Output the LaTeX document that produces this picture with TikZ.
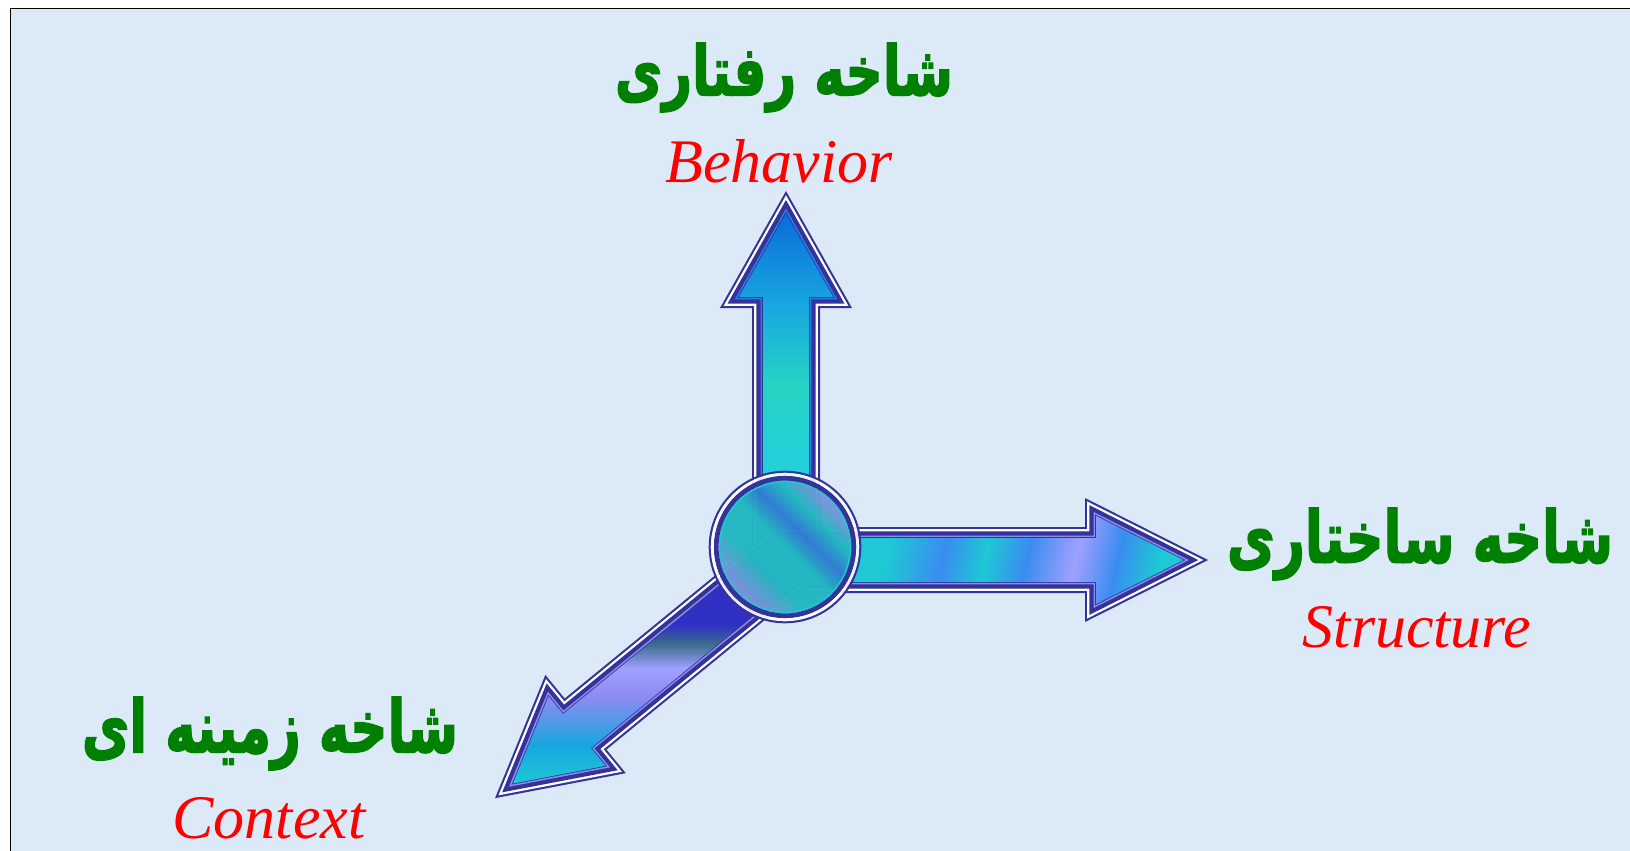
\documentclass[tikz,border=0pt]{standalone}
\usepackage{fontspec}
\usepackage{graphicx}
\setmainfont{Liberation Serif}
\newfontfamily\fa[Script=Arabic, BoldFeatures={FakeBold=2.5}]{DejaVu Sans}
\TeXXeTstate=1
\definecolor{bg}{RGB}{220,233,247}
\definecolor{dk}{RGB}{51,51,153}
\definecolor{gr}{RGB}{0,128,0}
\definecolor{u1}{HTML}{30D4DC}
\definecolor{u2}{HTML}{22D0D8}
\definecolor{u3}{HTML}{26D4C4}
\definecolor{u4}{HTML}{18A6E0}
\definecolor{u5}{HTML}{0A6CD8}
\definecolor{cy}{HTML}{1EC8D4}
\definecolor{cyb}{HTML}{28D2DC}
\definecolor{bl}{HTML}{3A8CF0}
\definecolor{lav}{HTML}{A0A0FF}
\definecolor{teal2}{HTML}{3C6C8C}
\definecolor{db}{HTML}{3030C4}
\definecolor{inblue}{HTML}{2A7DE8}
\definecolor{inlav}{HTML}{8C8CF0}
\pgfdeclareverticalshading{upsh}{100bp}{color(0bp)=(u1); color(25bp)=(u1); color(40bp)=(u2); color(50bp)=(u3); color(62bp)=(u4); color(75bp)=(u5); color(100bp)=(u5)}
\pgfdeclarehorizontalshading{rsh}{100bp}{color(0bp)=(cy); color(25bp)=(cy); color(36bp)=(cy); color(44bp)=(bl); color(50bp)=(cy); color(56bp)=(bl); color(63bp)=(lav); color(69bp)=(bl); color(75bp)=(cy); color(100bp)=(cy)}
\pgfdeclareverticalshading{dsh}{100bp}{color(0bp)=(cy); color(25bp)=(cy); color(33bp)=(u4); color(43bp)=(inlav); color(49bp)=(lav); color(54bp)=(teal2); color(58bp)=(db); color(75bp)=(db); color(100bp)=(db)}
\pgfdeclarehorizontalshading{hubsh}{100bp}{color(0bp)=(lav); color(25bp)=(lav); color(38bp)=(cyb); color(50bp)=(cyb); color(58bp)=(bl); color(66bp)=(cyb); color(75bp)=(lav); color(100bp)=(lav)}
% one offset layer of an arrow: #1 length, #2 shaft half width, #3 head half width, #4 head length, #5 inward offset, #6 options
\newcommand\arlayer[6]{%
  \pgfmathsetmacro\aXB{#1-#4+#5}%
  \pgfmathsetmacro\aS{veclen(#3,#4)}%
  \pgfmathsetmacro\aHH{#3-#5*(\aS+#3)/#4}%
  \pgfmathsetmacro\aTip{#1-#5*\aS/#3}%
  \pgfmathsetmacro\aW{#2-#5}%
  \path[#6] (0,\aW) -- (\aXB,\aW) -- (\aXB,\aHH) -- (\aTip,0) -- (\aXB,-\aHH) -- (\aXB,-\aW) -- (0,-\aW) -- cycle;}
\newcommand\fancyarrow[6]{%
  \arlayer{#1}{#2}{#3}{#4}{0}{fill=dk}
  \arlayer{#1}{#2}{#3}{#4}{2.1}{fill=white}
  \arlayer{#1}{#2}{#3}{#4}{4.4}{fill=dk}
  \arlayer{#1}{#2}{#3}{#4}{8.6}{fill=#5}
  \arlayer{#1}{#2}{#3}{#4}{10.2}{fill=dk}
  \arlayer{#1}{#2}{#3}{#4}{11}{#6}}
\tikzset{
  falabel/.style={inner sep=0pt, text=gr},
  enlabel/.style={inner sep=0pt, anchor=base, text=red, font=\fontsize{62}{70}\selectfont\itshape}
}
\begin{document}
\begin{tikzpicture}[x=1pt,y=-1pt]
\useasboundingbox (0,0) rectangle (1630,851);
\fill[white] (0,0) rectangle (1630,851);
\fill[bg] (10.4,8.4) rectangle (1630,851);
\draw[black,line width=1.6] (10.4,851) -- (10.4,8.4) -- (1630,8.4);

% arrows
\begin{scope}[shift={(786,560)},rotate=90]
  \fancyarrow{369}{34}{66}{117}{inblue}{shade,shading=upsh}
\end{scope}
\begin{scope}[shift={(786,560)},rotate=0]
  \fancyarrow{422}{33}{62}{123}{inlav}{shade,shading=rsh,shading angle=-12}
\end{scope}
\begin{scope}[shift={(786,560)},rotate=219.3]
  \fancyarrow{376}{33}{63.5}{117}{inlav}{shade,shading=dsh}
\end{scope}

% central ring
\coordinate (hub) at (785,547);
\fill[shade, shading=hubsh, shading angle=45, fill opacity=0.86] (hub) circle (66);
\draw[cy, line width=1.6] (hub) circle (65.4);
\draw[dk, line width=4.8] (hub) circle (68.8);
\draw[white, line width=3, opacity=0.9] (hub) circle (72.8);
\draw[dk, line width=2] (hub) circle (75.3);

% labels
\node[falabel] (beh-fa) at (784,77.5) {\resizebox*{338pt}{69pt}{\fa\bfseries\beginR شاخه رفتاری\endR}};
\node[enlabel] (beh-en) at (779,182) {Behavior};
\node[falabel] (str-fa) at (1420,544) {\resizebox*{386pt}{72pt}{\fa\bfseries\beginR شاخه ساختاری\endR}};
\node[enlabel] (str-en) at (1417,647) {Structure};
\node[falabel] (ctx-fa) at (270,733.5) {\resizebox*{376pt}{73pt}{\fa\bfseries\beginR شاخه زمینه ای\endR}};
\node[enlabel] (ctx-en) at (269,838) {Context};
\end{tikzpicture}
\end{document}
